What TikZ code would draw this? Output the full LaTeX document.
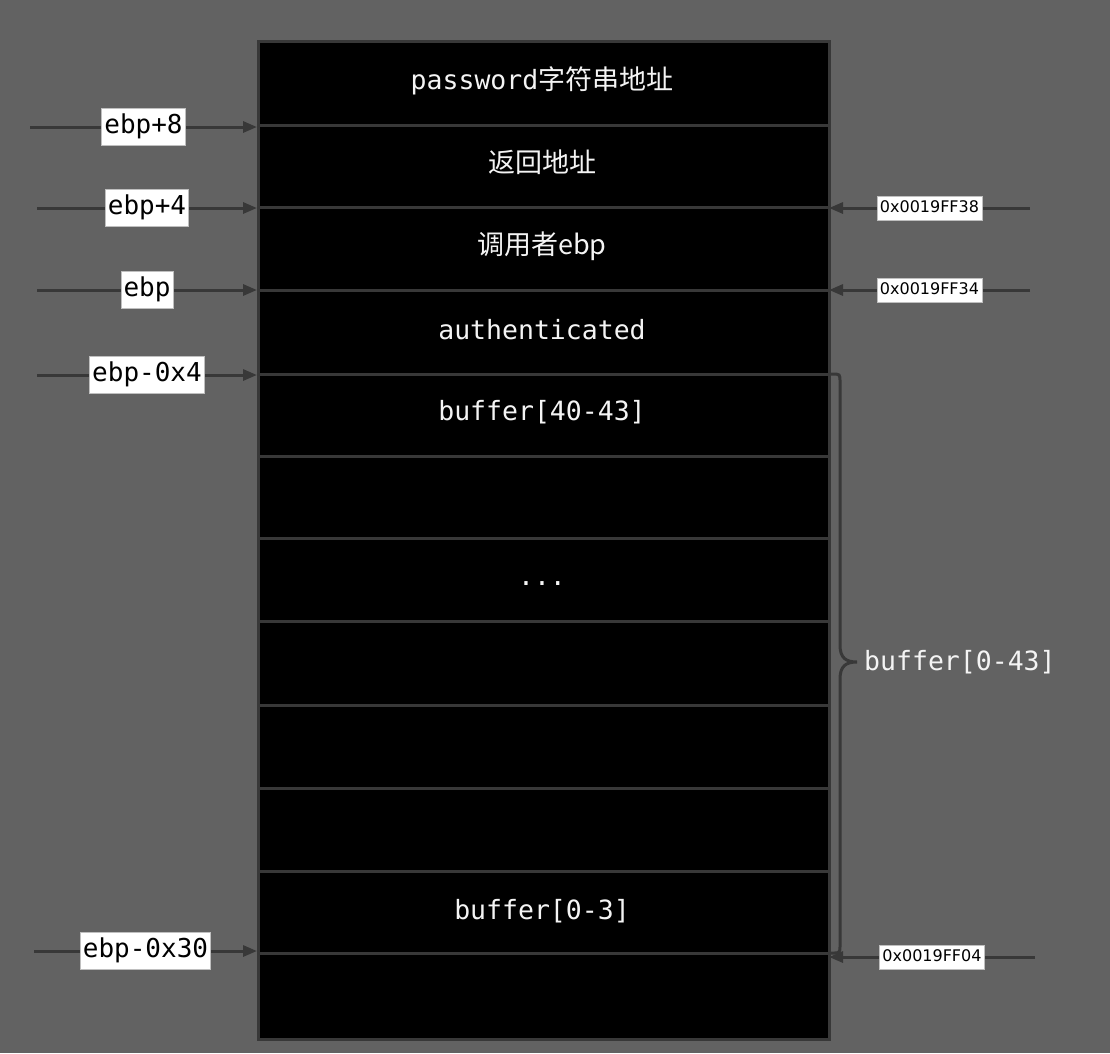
\documentclass[tikz,border=0pt]{standalone}
\usepackage{fontspec}
\usetikzlibrary{arrows.meta}
\setmainfont{DejaVu Sans}
\newfontfamily\monof{DejaVu Sans Mono}
\newfontfamily\cjkf{Noto Sans CJK SC}
\definecolor{bg}{HTML}{626262}
\definecolor{ln}{HTML}{383838}
\definecolor{tx}{HTML}{F4F4F4}
\begin{document}
\begin{tikzpicture}[x=1pt,y=-1pt,
  sep/.style={draw=ln, line width=3pt},
  arr/.style={draw=ln, line width=3pt, -{Triangle[length=14pt,width=11pt]}},
  lbl/.style={fill=white, draw=black!25, line width=0.8pt, text=black, inner xsep=2.5pt, inner ysep=5.5pt,
    font=\monof\fontsize{26}{26}\selectfont, text height=19.5pt, text depth=6pt},
  hex/.style={fill=white, draw=black!25, line width=0.8pt, text=black, inner xsep=3pt, inner ysep=4.5pt,
    font=\fontsize{16}{16}\selectfont, text height=11.5pt, text depth=3.5pt},
  cell/.style={text=tx, font=\monof\fontsize{26.5}{26.5}\selectfont, inner sep=0pt},
  cjkcell/.style={text=tx, font=\cjkf\fontsize{27}{27}\selectfont, inner sep=0pt}]
\fill[bg] (0,0) rectangle (1110,1053);
\useasboundingbox (0,0) rectangle (1110,1053);
% main stack
\node[draw=ln, fill=black, line width=3pt, minimum width=571pt, minimum height=998pt,
  anchor=north west, inner sep=0pt] (stack) at (257,40) {};
% boundaries
\foreach \i/\y in {1/125,2/207,3/290,4/374,5/456,6/538,7/621,8/705,9/788,10/871,11/953} {
  \coordinate (L\i) at (257,\y);
  \coordinate (R\i) at (828,\y);
  \draw[sep] (L\i) -- (R\i);
}
% cell texts
\node[cell] (c1) at (542,81) {password{\cjkf\fontsize{27}{27}\selectfont 字符串地址}};
\node[cjkcell] (c2) at (542,162) {返回地址};
\node[cjkcell] (c3) at (542,246) {调用者ebp};
\node[cell] (c4) at (542,330) {authenticated};
\node[cell] (c5) at (542,412) {buffer[40-43]};
\node[cell] (c7) at (542,584) {...};
\node[cell] (c11) at (542,911) {buffer[0-3]};
% left pointers
\coordinate (s1) at (30,127);
\coordinate (s2) at (37,208);
\coordinate (s3) at (37,290);
\coordinate (s4) at (37,375);
\coordinate (s11) at (34,951);
\coordinate (t1) at (257,127);
\coordinate (t2) at (257,208);
\coordinate (t3) at (257,290);
\coordinate (t4) at (257,375);
\coordinate (t11) at (257,951);
\draw[arr] (s1) -- node[lbl] (l1) {ebp+8} (t1);
\draw[arr] (s2) -- node[lbl] (l2) {ebp+4} (t2);
\draw[arr] (s3) -- node[lbl] (l3) {ebp} (t3);
\draw[arr] (s4) -- node[lbl] (l4) {ebp-0x4} (t4);
\draw[arr] (s11) -- node[lbl] (l11) {ebp-0x30} (t11);
% right pointers
\coordinate (r2) at (1030,208);
\coordinate (r3) at (1030,290);
\coordinate (r11) at (1035,957);
\coordinate (u2) at (829,208);
\coordinate (u3) at (829,290);
\coordinate (u11) at (829,957);
\draw[arr] (r2) -- node[hex] (h2) {0x0019FF38} (u2);
\draw[arr] (r3) -- node[hex] (h3) {0x0019FF34} (u3);
\draw[arr] (r11) -- node[hex] (h11) {0x0019FF04} (u11);
% brace
\draw[draw=ln, line width=3pt] (R4) -- (832,374) .. controls (840,374) .. (840,382) -- (840,645)
  .. controls (840,658) and (846,662) .. (857,662)
  .. controls (846,662) and (840,666) .. (840,679) -- (840,945)
  .. controls (840,953) .. (832,953) -- (R11);
\node[text=tx, font=\monof\fontsize{26.5}{26.5}\selectfont, anchor=west, inner sep=0pt] (bl) at (864,662) {buffer[0-43]};
\end{tikzpicture}
\end{document}
